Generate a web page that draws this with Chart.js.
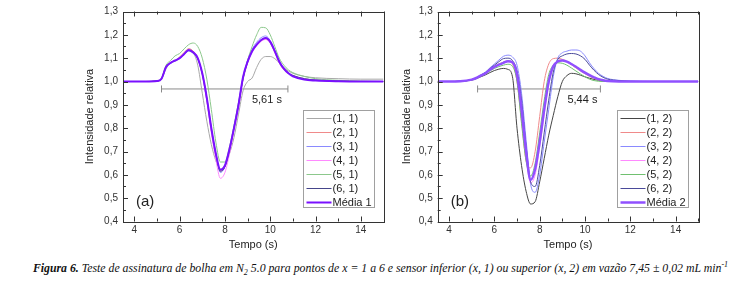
<!DOCTYPE html>
<html><head><meta charset="utf-8">
<script src="https://cdn.jsdelivr.net/npm/chart.js@4.4.1/dist/chart.umd.min.js"></script>
<style>
html,body{margin:0;padding:0;background:#fff;}
body{width:737px;height:287px;overflow:hidden;position:relative;}
canvas{position:absolute;top:0;}
#ca{left:78px;}
#cb{left:395px;}
#cap{position:absolute;left:12px;top:261px;width:737px;text-align:center;font:italic 11.8px 'Liberation Serif',serif;color:#111;line-height:14px;white-space:nowrap;}
#cap sub,#cap sup{font-size:8px;line-height:0;}
</style></head>
<body>
<canvas id="ca" width="312" height="255"></canvas>
<canvas id="cb" width="342" height="255"></canvas>
<div id="cap"><b>Figura 6.</b> Teste de assinatura de bolha em N<sub>2</sub> 5.0 para pontos de x = 1 a 6 e sensor inferior (x, 1) ou superior (x, 2) em vazão 7,45 ± 0,02 mL min<sup>-1</sup></div>
<script>
// ---- data ----
const time = [3.5,4,4.5,5,5.2,5.4,5.6,5.8,6,6.2,6.4,6.6,6.8,7,7.2,7.4,7.6,7.8,8,8.2,8.4,8.6,8.8,9,9.2,9.4,9.6,9.8,10,10.2,10.4,10.6,10.8,11,11.5,12,13,14,15];

const s11 = [1.0,1.0,1.0,1.002,1.01,1.055,1.078,1.088,1.10,1.12,1.14,1.125,1.07,0.95,0.83,0.73,0.66,0.625,0.64,0.69,0.76,0.86,0.96,1.0,1.015,1.06,1.095,1.107,1.107,1.098,1.08,1.06,1.045,1.035,1.022,1.016,1.012,1.01,1.01];
const s21 = [1.0,1.0,1.0,1.002,1.012,1.062,1.08,1.09,1.105,1.125,1.14,1.13,1.10,1.03,0.92,0.79,0.68,0.618,0.635,0.705,0.80,0.90,1.015,1.085,1.13,1.158,1.175,1.182,1.165,1.125,1.08,1.05,1.035,1.025,1.012,1.006,1.002,1.0,1.0];
const s31 = [1.0,1.0,1.0,1.002,1.012,1.06,1.078,1.088,1.098,1.115,1.13,1.12,1.095,1.03,0.92,0.79,0.68,0.61,0.635,0.71,0.81,0.91,1.02,1.09,1.138,1.168,1.188,1.195,1.175,1.135,1.09,1.058,1.038,1.026,1.013,1.006,1.002,1.0,1.0];
const s41 = [1.0,1.0,1.0,1.002,1.012,1.062,1.08,1.09,1.10,1.118,1.135,1.125,1.10,1.03,0.915,0.78,0.665,0.585,0.61,0.69,0.79,0.89,1.005,1.078,1.125,1.153,1.172,1.18,1.165,1.125,1.08,1.052,1.035,1.025,1.012,1.005,1.002,1.0,1.0];
const s51 = [1.0,1.0,1.0,1.003,1.015,1.07,1.09,1.11,1.12,1.14,1.158,1.165,1.15,1.10,1.01,0.88,0.74,0.655,0.655,0.72,0.81,0.91,1.01,1.09,1.15,1.20,1.232,1.23,1.20,1.15,1.10,1.07,1.05,1.038,1.022,1.012,1.005,1.002,1.0];
const s61 = [1.0,1.0,1.0,1.002,1.012,1.062,1.08,1.09,1.10,1.118,1.133,1.122,1.098,1.035,0.93,0.80,0.69,0.615,0.635,0.705,0.80,0.90,1.012,1.082,1.13,1.158,1.178,1.186,1.17,1.13,1.085,1.055,1.036,1.026,1.012,1.006,1.002,1.0,1.0];
const mean1 = [1.0,1.0,1.0,1.002,1.012,1.062,1.08,1.09,1.10,1.118,1.135,1.125,1.10,1.035,0.93,0.80,0.69,0.622,0.64,0.71,0.80,0.90,1.02,1.085,1.13,1.158,1.178,1.186,1.17,1.13,1.085,1.055,1.035,1.022,1.008,1.004,1.001,1.0,1.0];

const s12 = [1.0,1.0,1.001,1.006,1.012,1.02,1.028,1.038,1.047,1.053,1.056,1.052,1.02,0.80,0.64,0.53,0.475,0.485,0.57,0.67,0.77,0.855,0.935,1.0,1.025,1.035,1.033,1.027,1.02,1.014,1.009,1.005,1.002,1.0,1.0,1.0,1.0,1.0,1.0];
const s22 = [1.0,1.0,1.001,1.008,1.015,1.026,1.037,1.052,1.065,1.075,1.083,1.088,1.075,1.0,0.83,0.66,0.63,0.70,0.85,1.0,1.075,1.098,1.10,1.095,1.085,1.072,1.058,1.045,1.033,1.022,1.013,1.007,1.003,1.001,1.0,1.0,1.0,1.0,1.0];
const s32 = [1.0,1.0,1.001,1.008,1.016,1.028,1.04,1.058,1.075,1.092,1.108,1.113,1.105,1.07,0.95,0.75,0.56,0.525,0.60,0.74,0.88,1.02,1.10,1.123,1.13,1.135,1.135,1.13,1.11,1.08,1.055,1.035,1.022,1.013,1.005,1.002,1.0,1.0,1.0];
const s42 = [1.0,1.0,1.001,1.008,1.015,1.025,1.035,1.05,1.063,1.072,1.08,1.085,1.078,1.02,0.86,0.68,0.565,0.60,0.72,0.86,0.99,1.06,1.085,1.09,1.085,1.075,1.063,1.05,1.038,1.027,1.018,1.01,1.005,1.002,1.0,1.0,1.0,1.0,1.0];
const s52 = [1.0,1.0,1.001,1.007,1.013,1.022,1.032,1.045,1.056,1.064,1.07,1.074,1.065,1.0,0.82,0.66,0.595,0.65,0.78,0.92,1.03,1.07,1.08,1.078,1.07,1.058,1.045,1.032,1.02,1.01,1.004,1.001,1.0,1.0,1.0,1.0,1.0,1.0,1.0];
const s62 = [1.0,1.0,1.001,1.008,1.016,1.027,1.038,1.055,1.07,1.085,1.098,1.10,1.09,1.045,0.92,0.72,0.57,0.55,0.64,0.78,0.92,1.04,1.095,1.11,1.118,1.12,1.118,1.11,1.095,1.07,1.048,1.03,1.018,1.01,1.004,1.001,1.0,1.0,1.0];
const mean2 = [1.0,1.0,1.001,1.008,1.015,1.025,1.035,1.05,1.063,1.072,1.08,1.087,1.082,1.03,0.88,0.70,0.578,0.625,0.74,0.88,1.0,1.065,1.086,1.09,1.085,1.075,1.063,1.05,1.038,1.027,1.018,1.01,1.005,1.002,1.0,1.0,1.0,1.0,1.0];

const labelsA = ['(1, 1)','(2, 1)','(3, 1)','(4, 1)','(5, 1)','(6, 1)','Média 1'];
const labelsB = ['(1, 2)','(2, 2)','(3, 2)','(4, 2)','(5, 2)','(6, 2)','Média 2'];
const spanA = [5.2, 10.78, 0.968]; const spanLabelA = '5,61 s';
const spanB = [5.26, 10.68, 0.968]; const spanLabelB = '5,44 s';
const panelA = '(a)'; const panelB = '(b)';
const xTicks = [4,6,8,10,12,14];
const yTicks = [0.4,0.5,0.6,0.7,0.8,0.9,1.0,1.1,1.2,1.3];
const xTitle = 'Tempo (s)'; const yTitle = 'Intensidade relativa';

// ---- styles ----
const colorsA = ['#a8a8a8','#f08a8a','#8a8aff','#ff8aff','#8cc88c','#45458a','#7a10ff'];
const colorsB = ['#454545','#f08a8a','#8a8aff','#ff8aff','#70c070','#4a4a9a','#9050ff'];
const widthsA = [1,1,1,1,1,1,2];
const widthsB = [1,1,1,1,1,1,2.5];
const FONT = "'Liberation Sans', Arial, sans-serif";

const decoPlugin = {
  id: 'deco',
  afterDatasetsDraw(chart, args, o) {
    const {ctx, chartArea: a, scales: {x, y}} = chart;
    ctx.save();
    ctx.strokeStyle = '#333'; ctx.lineWidth = 1;
    ctx.strokeRect(Math.round(a.left) + 0.5, Math.round(a.top) + 0.5, Math.round(a.right - a.left), Math.round(a.bottom - a.top));
    ctx.beginPath();
    for (let v = 4; v <= 15; v += 1) {
      const px = Math.round(x.getPixelForValue(v)) + 0.5;
      const len = (v % 2 === 0) ? 5 : 3;
      ctx.moveTo(px, a.bottom); ctx.lineTo(px, a.bottom - len);
      ctx.moveTo(px, a.top); ctx.lineTo(px, a.top + len);
    }
    for (let k = 8; k <= 26; k++) {
      const v = k * 0.05;
      const py = Math.round(y.getPixelForValue(v)) + 0.5;
      const len = (k % 2 === 0) ? 5 : 3;
      ctx.moveTo(a.left, py); ctx.lineTo(a.left + len, py);
    }
    ctx.stroke();
    ctx.fillStyle = '#222';
    ctx.font = '11px ' + FONT;
    ctx.textAlign = 'right'; ctx.textBaseline = 'middle';
    ctx.fillText(o.spanLabel, x.getPixelForValue(o.span[1]) - o.labelGap, y.getPixelForValue(o.span[2]) + 11);
    ctx.font = '15px ' + FONT; ctx.textAlign = 'left';
    ctx.fillText(o.panel, a.left + 13, a.bottom - 20);
    const n = o.count;
    const bw = 71, bh = 97;
    const bx = Math.round(a.right - 10 - bw) + 0.5, by = Math.round(a.bottom - 15 - bh) + 0.5;
    ctx.fillStyle = '#fff'; ctx.fillRect(bx, by, bw, bh);
    ctx.strokeStyle = '#a0a0a0'; ctx.lineWidth = 1; ctx.strokeRect(bx, by, bw, bh);
    ctx.font = '11px ' + FONT; ctx.textAlign = 'left'; ctx.textBaseline = 'middle';
    const ds = chart.data.datasets;
    for (let i = 0; i < n; i++) {
      const d = ds[i + 1];
      const ly = Math.round(by + 7 + i * 14) + 0.5;
      ctx.strokeStyle = d.borderColor; ctx.lineWidth = d.borderWidth;
      ctx.beginPath(); ctx.moveTo(bx + 3, ly); ctx.lineTo(bx + 28, ly); ctx.stroke();
      ctx.fillStyle = '#222';
      ctx.fillText(d.label, bx + 29, ly);
    }
    ctx.restore();
  }
};

function makeChart(id, series, labels, colors, widths, span, spanLabel, labelGap, panel, yWidth, yTitlePad, padRight) {
  const datasets = [{
    label: '_span',
    data: [{x: span[0], y: span[2]}, {x: span[1], y: span[2]}],
    borderColor: '#8a8a8a', borderWidth: 1,
    pointStyle: 'line', rotation: 90, pointRadius: 3.5, pointBorderColor: '#8a8a8a', pointBorderWidth: 1,
    order: 100
  }];
  series.forEach((arr, i) => {
    datasets.push({
      label: labels[i],
      data: time.map((t, j) => ({x: t, y: arr[j]})),
      borderColor: colors[i], borderWidth: widths[i],
      pointRadius: 0, cubicInterpolationMode: 'monotone',
      order: 50 - i
    });
  });
  return new Chart(document.getElementById(id), {
    type: 'line',
    data: {datasets},
    plugins: [decoPlugin],
    options: {
      responsive: false, animation: false, devicePixelRatio: 1,
      layout: {padding: {top: 11.5, right: padRight, bottom: 0, left: 0}},
      plugins: {legend: {display: false}, tooltip: {enabled: false},
        deco: {span, spanLabel, labelGap, panel, count: series.length}},
      scales: {
        x: {type: 'linear', min: 3.5, max: 15,
          afterBuildTicks: s => { s.ticks = xTicks.map(v => ({value: v})); },
          afterFit: s => { s.height = 33.5; },
          ticks: {font: {family: FONT, size: 10}, color: '#333', padding: 2.5, maxRotation: 0, autoSkip: false, callback: v => String(v)},
          grid: {display: false, drawTicks: false}, border: {display: false},
          title: {display: true, text: xTitle, font: {family: FONT, size: 11}, color: '#222', padding: {top: 0, bottom: 3}}
        },
        y: {type: 'linear', min: 0.4, max: 1.3,
          afterBuildTicks: s => { s.ticks = yTicks.map(v => ({value: v})); },
          afterFit: s => { s.width = yWidth; },
          ticks: {font: {family: FONT, size: 10}, color: '#333', padding: 5, callback: v => v.toFixed(1).replace('.', ',')},
          grid: {display: false, drawTicks: false}, border: {display: false},
          title: {display: true, text: yTitle, font: {family: FONT, size: 11}, color: '#222', padding: {top: yTitlePad, bottom: 0}}
        }
      }
    }
  });
}

makeChart('ca', [s11, s21, s31, s41, s51, s61, mean1], labelsA, colorsA, widthsA, spanA, spanLabelA, 6, panelA, 45, 5.5, 6.5);
makeChart('cb', [s12, s22, s32, s42, s52, s62, mean2], labelsB, colorsB, widthsB, spanB, spanLabelB, 3, panelB, 42.7, 5.5, 38.7);
</script>
</body></html>
